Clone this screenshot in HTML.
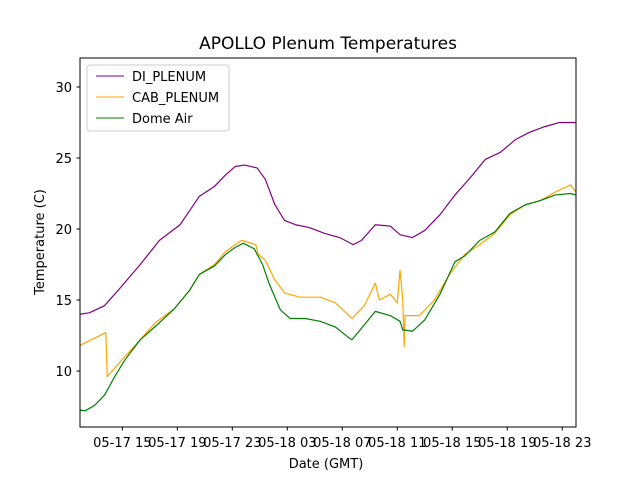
<!DOCTYPE html>
<html><head><meta charset="utf-8"><style>
body{margin:0;background:#fff}
svg text{font-family:"DejaVu Sans","Liberation Sans",sans-serif;fill:#000}
</style></head><body>
<svg id="chart" width="640" height="480" xmlns="http://www.w3.org/2000/svg">
<rect width="640" height="480" fill="#fff"/>
<text x="328" y="49" font-size="17" text-anchor="middle">APOLLO Plenum Temperatures</text>
<g id="plot"></g>
<rect x="80" y="58" width="496" height="369" fill="none" stroke="#000" stroke-width="1"/>
<text x="326" y="468" font-size="13" text-anchor="middle">Date (GMT)</text>
<text transform="translate(44,242) rotate(-90)" font-size="13" text-anchor="middle">Temperature (C)</text>
<g>
<rect x="87" y="65" width="142" height="66" rx="3" fill="#fff" fill-opacity="0.8" stroke="#ccc"/>
<line x1="96" y1="76" x2="124" y2="76" stroke="purple" stroke-width="1"/>
<text x="132" y="81" font-size="13">DI_PLENUM</text>
<line x1="96" y1="97" x2="124" y2="97" stroke="orange" stroke-width="1"/>
<text x="132" y="102" font-size="13">CAB_PLENUM</text>
<line x1="96" y1="118" x2="124" y2="118" stroke="green" stroke-width="1"/>
<text x="132" y="123" font-size="13">Dome Air</text>
</g>
</svg>
<script>
// hours since 05-17 00:00 GMT
const xTickHours=[15,19,23,27,31,35,39,43,47];
const xTickLabels=["05-17 15","05-17 19","05-17 23","05-18 03","05-18 07","05-18 11","05-18 15","05-18 19","05-18 23"];
const yTicks=[10,15,20,25,30];
const diTimes=[11.9,12.6,13.7,14.8,16.3,17.7,19.2,19.9,20.6,21.7,22.5,23.2,23.9,24.8,25.4,26.1,26.8,27.6,28.6,29.7,30.8,31.8,32.4,33.4,34.5,35.2,36.1,37.0,38.1,39.2,40.3,41.4,42.5,43.6,44.6,45.7,46.8,48.0];
const diValues=[14.0,14.1,14.6,15.8,17.5,19.2,20.3,21.3,22.3,23.0,23.8,24.4,24.5,24.3,23.5,21.7,20.6,20.3,20.1,19.7,19.4,18.9,19.2,20.3,20.2,19.6,19.4,19.9,21.0,22.4,23.6,24.9,25.4,26.3,26.8,27.2,27.5,27.5];
const cabTimes=[11.9,13.8,13.9,14.8,16.3,17.4,18.8,19.9,20.6,21.7,22.5,23.2,23.7,24.7,24.9,25.4,26.1,26.8,27.9,29.4,30.5,31.7,32.6,33.4,33.7,34.5,35.0,35.2,35.4,35.5,35.56,36.6,37.7,38.8,39.9,41.0,42.1,43.2,44.3,45.4,46.5,47.6,48.0];
const cabValues=[11.8,12.7,9.6,10.6,12.2,13.4,14.4,15.7,16.8,17.5,18.4,18.9,19.2,18.9,18.2,17.8,16.4,15.5,15.2,15.2,14.8,13.7,14.6,16.2,15.0,15.4,14.8,17.1,15.0,11.7,13.9,13.9,15.0,16.8,18.2,18.9,19.7,21.0,21.7,22.0,22.6,23.1,22.6];
const domeTimes=[11.9,12.3,13.0,13.7,14.5,15.2,16.3,17.7,18.8,19.9,20.6,21.7,22.5,23.2,23.8,24.6,25.2,25.7,26.5,27.2,28.3,29.4,30.5,31.4,31.7,32.3,33.4,34.5,35.2,35.4,36.1,37.0,38.1,39.2,39.9,41.0,42.1,43.2,44.3,45.4,46.5,47.6,48.0];
const domeValues=[7.25,7.2,7.6,8.3,9.7,10.8,12.2,13.4,14.4,15.7,16.8,17.4,18.2,18.7,19.0,18.6,17.5,16.1,14.3,13.7,13.7,13.5,13.1,12.4,12.2,12.9,14.2,13.9,13.5,12.9,12.8,13.6,15.4,17.7,18.1,19.2,19.8,21.1,21.7,22.0,22.4,22.5,22.4];

const X0=80,X1=576,Y0=427,Y1=58,xMin=11.92,xMax=48.0,yMin=6.06,yMax=32.04;
const xs=h=>X0+(h-xMin)/(xMax-xMin)*(X1-X0);
const ys=v=>Y0-(v-yMin)/(yMax-yMin)*(Y0-Y1);
const NS="http://www.w3.org/2000/svg";
const svg=document.getElementById('chart');
const plot=document.getElementById('plot');
function mk(tag,attrs,parent){const e=document.createElementNS(NS,tag);for(const k in attrs)e.setAttribute(k,attrs[k]);parent.appendChild(e);return e;}
xTickHours.forEach((h,i)=>{
  const x=xs(h);
  const t=mk('line',{x1:x,x2:x,y1:427,y2:430.5,stroke:'#000'},svg);
  
  
  const l=mk('text',{x:x,y:447,'font-size':13,'text-anchor':'middle'},svg);
  l.textContent=xTickLabels[i];
  
  
});
yTicks.forEach(v=>{
  const y=ys(v);
  const t=mk('line',{x1:76.5,x2:80,y1:y,y2:y,stroke:'#000'},svg);
  
  
  const l=mk('text',{x:72,y:y+5,'font-size':13,'text-anchor':'end'},svg);
  l.textContent=v;
  
  
});
function series(times,vals,color,name){
  const p=mk('polyline',{points:times.map((t,i)=>xs(t)+','+ys(vals[i])).join(' '),fill:'none',stroke:color,'stroke-width':1.2,'stroke-linejoin':'round'},plot);
  
  
}
series(diTimes,diValues,'purple','di-plenum-line');
series(cabTimes,cabValues,'orange','cab-plenum-line');
series(domeTimes,domeValues,'green','dome-air-line');
</script>
</body></html>
